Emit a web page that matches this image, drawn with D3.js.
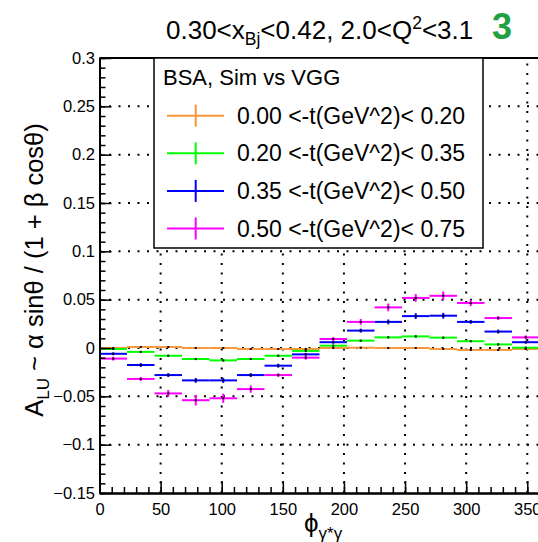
<!DOCTYPE html>
<html><head><meta charset="utf-8">
<script src="https://cdn.jsdelivr.net/npm/d3@7"></script>
<style>body{margin:0;background:#fff;} svg{display:block;font-family:"Liberation Sans",Arial,Helvetica,sans-serif;}</style>
</head><body><svg id="c" width="538" height="542"></svg>
<script>
// ---- data ----
const phiCenters = [11.25, 33.75, 56.25, 78.75, 101.25, 123.75, 146.25, 168.75, 191.25, 213.75, 236.25, 258.75, 281.25, 303.75, 326.25, 348.75];
const binHalfWidth = 11.25;
const seriesLabels = ["0.00 <-t(GeV^2)< 0.20", "0.20 <-t(GeV^2)< 0.35", "0.35 <-t(GeV^2)< 0.50", "0.50 <-t(GeV^2)< 0.75"];
const seriesColors = ["#f8963a", "#00ff00", "#0000ff", "#ff00ff"];
const tBin1 = [0.000, 0.001, 0.001, 0.000, 0.000, -0.001, -0.001, -0.001, 0.000, 0.0003, 0.000, 0.000, -0.001, -0.002, -0.002, -0.001];
const tBin2 = [-0.001, -0.004, -0.008, -0.0114, -0.0128, -0.0114, -0.008, -0.003, 0.0024, 0.0076, 0.011, 0.012, 0.0107, 0.007, 0.0037, 0.0003];
const tBin3 = [-0.006, -0.0176, -0.028, -0.0335, -0.0335, -0.028, -0.0183, -0.0066, 0.006, 0.018, 0.027, 0.033, 0.0334, 0.027, 0.017, 0.006];
const tBin4 = [-0.011, -0.032, -0.047, -0.054, -0.052, -0.0425, -0.028, -0.010, 0.0093, 0.027, 0.042, 0.0518, 0.054, 0.0466, 0.031, 0.011];
const tBin1Err = [0.0005, 0.0005, 0.0005, 0.0005, 0.0005, 0.0005, 0.0005, 0.0005, 0.0005, 0.0005, 0.0005, 0.0005, 0.0005, 0.0005, 0.0005, 0.0005];
const tBin2Err = [0.001, 0.001, 0.001, 0.0012, 0.0012, 0.001, 0.001, 0.001, 0.001, 0.001, 0.001, 0.0012, 0.0012, 0.001, 0.001, 0.001];
const tBin3Err = [0.0015, 0.002, 0.002, 0.0025, 0.0025, 0.002, 0.002, 0.0015, 0.0015, 0.002, 0.0025, 0.003, 0.003, 0.002, 0.002, 0.0015];
const tBin4Err = [0.002, 0.002, 0.0035, 0.0055, 0.0048, 0.0038, 0.002, 0.002, 0.002, 0.003, 0.004, 0.004, 0.0045, 0.0033, 0.002, 0.002];
const xMajorTicks = [0, 50, 100, 150, 200, 250, 300, 350];
const yMajorTicks = [-0.15, -0.1, -0.05, 0, 0.05, 0.1, 0.15, 0.2, 0.25, 0.3];
const xGridValues = [50, 100, 150, 200, 250, 300, 350];
const yGridValues = [-0.1, -0.05, 0, 0.05, 0.1, 0.15, 0.2, 0.25];

const seriesValues = [tBin1, tBin2, tBin3, tBin4];
const seriesErrors = [tBin1Err, tBin2Err, tBin3Err, tBin4Err];

// ---- layout ----
const svg = d3.select("#c");
const x = d3.scaleLinear().domain([0, 360]).range([99.5, 539.5]);
const y = d3.scaleLinear().domain([-0.15, 0.3]).range([493, 58]);

// grid
const grid = svg.append("g").attr("stroke", "#000").attr("stroke-width", 2).attr("stroke-dasharray", "2,7.5");
grid.selectAll(".gx").data(xGridValues).join("line")
  .attr("x1", d => x(d)).attr("x2", d => x(d)).attr("y1", y(-0.15)).attr("y2", y(0.3));
grid.selectAll(".gy").data(yGridValues).join("line")
  .attr("x1", x(0)).attr("x2", x(360)).attr("y1", d => y(d)).attr("y2", d => y(d));

// data
seriesValues.forEach((vals, si) => {
  const g = svg.append("g").attr("stroke", seriesColors[si]).attr("stroke-width", 2);
  g.selectAll(".h").data(vals).join("line")
    .attr("x1", (d, i) => x(phiCenters[i] - binHalfWidth))
    .attr("x2", (d, i) => x(phiCenters[i] + binHalfWidth))
    .attr("y1", d => y(d)).attr("y2", d => y(d));
  g.selectAll(".v").data(vals).join("line")
    .attr("x1", (d, i) => x(phiCenters[i])).attr("x2", (d, i) => x(phiCenters[i]))
    .attr("y1", (d, i) => y(d - seriesErrors[si][i]))
    .attr("y2", (d, i) => y(d + seriesErrors[si][i]));
});
seriesValues.forEach((vals) => {
  svg.append("g").selectAll("rect").data(vals).join("rect")
    .attr("x", (d, i) => x(phiCenters[i]) - 1).attr("y", d => y(d) - 1)
    .attr("width", 2).attr("height", 2).attr("fill", "#000");
});

// axes
const fmt = d3.format("~g");
const xAxis = svg.append("g").attr("transform", `translate(0,${y(-0.15)})`)
  .call(d3.axisBottom(x).tickValues(xMajorTicks).tickSize(-12).tickSizeOuter(0).tickPadding(10.5).tickFormat(fmt));
const xMinor = svg.append("g").attr("transform", `translate(0,${y(-0.15)})`)
  .call(d3.axisBottom(x).tickValues(d3.range(0, 361, 10)).tickSize(-6).tickSizeOuter(0).tickFormat(""));
const yAxis = svg.append("g").attr("transform", `translate(${x(0)},0)`)
  .call(d3.axisLeft(y).tickValues(yMajorTicks).tickSize(-12).tickSizeOuter(0).tickPadding(4.5).tickFormat(fmt));
const yMinor = svg.append("g").attr("transform", `translate(${x(0)},0)`)
  .call(d3.axisLeft(y).tickValues(d3.range(-15, 31, 1).map(v => v / 100)).tickSize(-6).tickSizeOuter(0).tickFormat(""));
[xAxis, xMinor, yAxis, yMinor].forEach(a => {
  a.selectAll(".domain").attr("stroke", "#000").attr("stroke-width", 2);
  a.selectAll(".tick line").attr("stroke", "#000").attr("stroke-width", 1.5);
  a.selectAll("text").attr("font-size", 16.5).attr("fill", "#000").attr("font-family", "Liberation Sans, Arial, sans-serif");
});
// frame top/right
svg.append("line").attr("x1", x(0)).attr("x2", x(360)).attr("y1", y(0.3)).attr("y2", y(0.3)).attr("stroke", "#000").attr("stroke-width", 2);
svg.append("line").attr("x1", x(360)).attr("x2", x(360)).attr("y1", y(0.3)).attr("y2", y(-0.15)).attr("stroke", "#000").attr("stroke-width", 2);

// legend
const lg = svg.append("g");
lg.append("rect").attr("x", 154).attr("y", 58).attr("width", 329).attr("height", 190)
  .attr("fill", "#fff").attr("stroke", "#000").attr("stroke-width", 1.5);
lg.append("text").attr("x", 163).attr("y", 84.5).attr("font-size", 22).text("BSA, Sim vs VGG");
seriesLabels.forEach((lab, i) => {
  const ly = 115.7 + i * 37.6;
  lg.append("line").attr("x1", 167).attr("x2", 224).attr("y1", ly).attr("y2", ly)
    .attr("stroke", seriesColors[i]).attr("stroke-width", 2);
  lg.append("line").attr("x1", 195.7).attr("x2", 195.7).attr("y1", ly - 11).attr("y2", ly + 11)
    .attr("stroke", seriesColors[i]).attr("stroke-width", 2);
  lg.append("text").attr("x", 237).attr("y", ly + 8).attr("font-size", 23).text(lab);
});

// title
const title = svg.append("text").attr("x", 166).attr("y", 38.5).attr("font-size", 26);
title.append("tspan").text("0.30<x");
title.append("tspan").attr("font-size", 17.5).attr("dy", 6).text("Bj");
title.append("tspan").attr("dy", -6).text("<0.42, 2.0<Q");
title.append("tspan").attr("font-size", 17.5).attr("dy", -10).text("2");
title.append("tspan").attr("dy", 10).text("<3.1");
svg.append("text").attr("x", 492).attr("y", 38.5).attr("font-size", 36).attr("font-weight", "bold")
  .attr("fill", "#20a040").text("3");

// y title
const yt = svg.append("text").attr("transform", "translate(43,270) rotate(-90)")
  .attr("text-anchor", "middle").attr("font-size", 25.5);
yt.append("tspan").text("A");
yt.append("tspan").attr("font-size", 17).attr("dy", 6).text("LU");
yt.append("tspan").attr("dy", -6).text(" ~  α  sinθ / (1 + β  cosθ)");

// x title
const xt = svg.append("text").attr("x", 304).attr("y", 532).attr("font-size", 26);
xt.append("tspan").text("ϕ");
xt.append("tspan").attr("font-size", 17).attr("dy", 7).text("γ*γ");
</script>
</body></html>
